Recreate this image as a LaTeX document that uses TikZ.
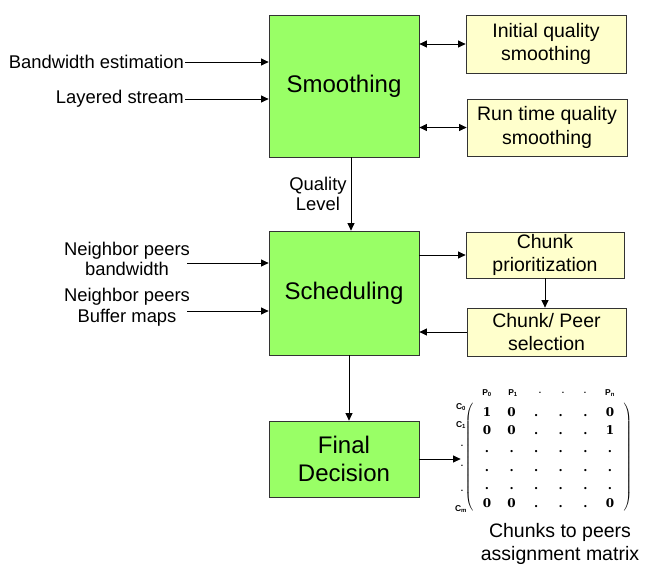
\documentclass[tikz,border=0pt]{standalone}
\usepackage{fontspec}
\usetikzlibrary{arrows.meta,matrix}
\newfontfamily\helv{Liberation Sans}
\newfontfamily\matfont{DejaVu Serif}
\definecolor{procgreen}{HTML}{99FF66}
\definecolor{subyellow}{HTML}{FFFFCC}
\tikzset{
% Two box styles: green process blocks and yellow sub steps
proc box/.style={draw=black!80,fill=procgreen,line width=0.8pt,inner sep=0,align=center,
  font=\helv\fontsize{24}{28}\selectfont},
sub box/.style={draw=black!80,fill=subyellow,line width=0.8pt,inner sep=0,align=center,
  font=\helv\fontsize{19.5}{23.5}\selectfont},
in label/.style={inner sep=1pt,align=center,font=\helv\fontsize{18.4}{20.5}\selectfont},
tiny lab/.style={inner sep=0,font=\helv\bfseries\fontsize{8.5}{9}\selectfont},
mat cell/.style={inner sep=0,minimum width=24.6pt,minimum height=18.2pt,
  text height=9pt,text depth=0pt,font=\matfont\bfseries\fontsize{12}{12}\selectfont},
flow/.style={-{Triangle[length=7.5pt,width=7pt]},line width=0.8pt},
flow both/.style={{Triangle[length=7.5pt,width=7pt]}-{Triangle[length=7.5pt,width=7pt]},line width=0.8pt}
}
\begin{document}
\begin{tikzpicture}[x=1pt,y=-1pt]
      \useasboundingbox (0,0) rectangle (645,566);
      % Main blocks
      \node (smooth)[proc box,minimum width=150pt,minimum height=142pt] at (344,86) {Smoothing};
      \node (sched)[proc box,minimum width=150pt,minimum height=124pt] at (344,293) {Scheduling};
      \node (final)[proc box,minimum width=150pt,minimum height=76pt] at (344,459) {Final\\Decision};
      % Sub steps on the right
      \node (initq)[sub box,minimum width=160pt,minimum height=58pt] at (546,44) {Initial quality\\smoothing};
      \node (runq)[sub box,minimum width=160pt,minimum height=57pt] at (547,127.5) {Run time quality\\smoothing};
      \node (prior)[sub box,minimum width=158pt,minimum height=46pt] at (545,255) {Chunk\\prioritization};
      \node (select)[sub box,minimum width=159pt,minimum height=48pt] at (546.5,332) {Chunk/ Peer\\selection};
      % Inputs
      \node (bwest)[in label,anchor=east] at (185,62) {Bandwidth estimation};
      \node (layer)[in label,anchor=east] at (185,99) {Layered stream};
      \node (nbw)[in label] at (127,259) {Neighbor peers\\bandwidth};
      \node (nbuf)[in label] at (127,307) {Neighbor peers\\Buffer maps};
      \draw[flow] (bwest.east) -- (bwest.east -| smooth.west);
      \draw[flow] (layer.east) -- (layer.east -| smooth.west);
      \draw[flow] ([shift={(-4,4)}]nbw.east) coordinate (nbwout) -- (nbwout -| sched.west);
      \draw[flow] ([shift={(-4,4)}]nbuf.east) coordinate (nbufout) -- (nbufout -| sched.west);
      % Flow between blocks
      \draw[flow] ([xshift=7pt]smooth.south) -- node[in label,left=3pt]{Quality\\Level} ([xshift=7pt]sched.north);
      \draw[flow] ([xshift=5pt]sched.south) -- ([xshift=5pt]final.north);
      \draw[flow both] (smooth.east |- initq.west) -- (initq.west);
      \draw[flow both] (smooth.east |- runq.west) -- (runq.west);
      \draw[flow] (sched.east |- prior.west) -- (prior.west);
      \draw[flow] (prior.south) -- (prior.south |- select.north);
      \draw[flow] (select.west) -- (sched.east |- select.west);
      % Assignment matrix
      \matrix (mat)[matrix of nodes,nodes={mat cell},inner sep=0,column sep=0pt,row sep=0pt,
        left delimiter=(,right delimiter=)] at (548.5,457.5) {
        1 & 0 & . & . & . & 0\\
        0 & 0 & . & . & . & 1\\
        . & . & . & . & . & .\\
        . & . & . & . & . & .\\
        . & . & . & . & . & .\\
        0 & 0 & . & . & . & 0\\
      };
      % column and row labels
      \node (p0)[tiny lab] at (487,393) {P\textsubscript{0}};
      \node (p1)[tiny lab] at (513,393) {P\textsubscript{1}};
      \node (pd1)[tiny lab] at (540,393) {.};
      \node (pd2)[tiny lab] at (563,393) {.};
      \node (pd3)[tiny lab] at (585,393) {.};
      \node (pn)[tiny lab] at (610,393) {P\textsubscript{n}};
      \node (c0)[tiny lab] at (461,407) {C\textsubscript{0}};
      \node (c1)[tiny lab] at (461,425) {C\textsubscript{1}};
      \node (rd1)[tiny lab] at (462,446) {.};
      \node (rd2)[tiny lab] at (462,466) {.};
      \node (rd3)[tiny lab] at (462,491) {.};
      \node (cm)[tiny lab] at (461,509) {C\textsubscript{m}};
      \draw[flow] (final.east) -- (final.east -| rd1.west);
      \node (cap)[in label,font=\helv\fontsize{19.5}{23}\selectfont] at (560,543.5) {Chunks to peers\\assignment matrix};
\end{tikzpicture}
\end{document}
